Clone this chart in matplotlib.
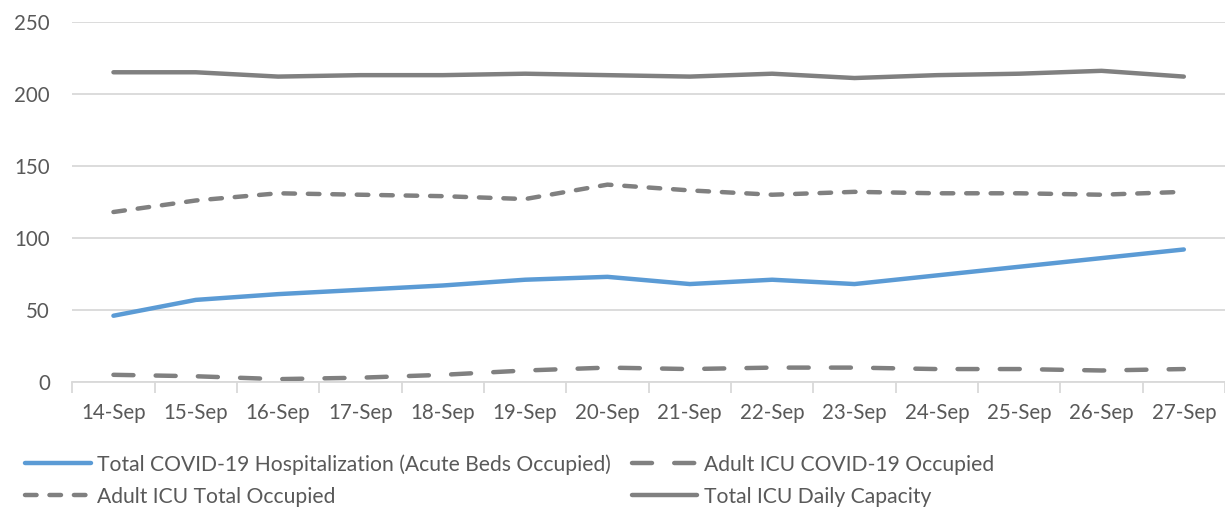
import numpy as np
import matplotlib.pyplot as plt

dates = ['14-Sep', '15-Sep', '16-Sep', '17-Sep', '18-Sep', '19-Sep', '20-Sep',
         '21-Sep', '22-Sep', '23-Sep', '24-Sep', '25-Sep', '26-Sep', '27-Sep']
hospitalization = [46, 57, 61, 64, 67, 71, 73, 68, 71, 68, 74, 80, 86, 92]
icu_covid = [5, 4, 2, 3, 5, 8, 10, 9, 10, 10, 9, 9, 8, 9]
icu_total = [118, 126, 131, 130, 129, 127, 137, 133, 130, 132, 131, 131, 130, 132]
icu_capacity = [215, 215, 212, 213, 213, 214, 213, 212, 214, 211, 213, 214, 216, 212]

plt.rcParams['font.family'] = ['Lato', 'DejaVu Sans']
text_color = '#595959'
grey = '#808080'
blue = '#5B9BD5'

fig = plt.figure(figsize=(12.25, 5.08), dpi=100)
ax = fig.add_axes([0.059, 0.248, 0.941, 0.709])

x = np.arange(len(dates))
lw = 3.2
l1, = ax.plot(x, hospitalization, color=blue, lw=lw, solid_capstyle='round',
              label='Total COVID-19 Hospitalization (Acute Beds Occupied)')
l2, = ax.plot(x, icu_covid, color=grey, lw=lw, dashes=(4.5, 5.0), dash_capstyle='round',
              label='Adult ICU COVID-19 Occupied')
l3, = ax.plot(x, icu_total, color=grey, lw=lw, dashes=(2.6, 2.9), dash_capstyle='round',
              label='Adult ICU Total Occupied')
l4, = ax.plot(x, icu_capacity, color=grey, lw=lw, solid_capstyle='round',
              label='Total ICU Daily Capacity')

ax.set_xlim(-0.5, len(dates) - 0.5)
ax.set_ylim(0, 250)
ax.set_yticks(range(0, 251, 50))
ax.set_xticks(x)
ax.set_xticklabels(dates)
ax.set_xticks(np.arange(-0.5, len(dates), 1), minor=True)
ax.tick_params(axis='x', which='major', length=0, pad=15, labelsize=14.8, colors=text_color)
ax.tick_params(axis='x', which='minor', length=8, color='#d9d9d9', width=1.3)
ax.tick_params(axis='y', length=0, pad=16, labelsize=14.8, colors=text_color)
ax.grid(axis='y', color='#d9d9d9', lw=1.3)
ax.set_axisbelow(True)
for s in ['top', 'right', 'left']:
    ax.spines[s].set_visible(False)
ax.spines['bottom'].set_color('#d9d9d9')
ax.spines['bottom'].set_linewidth(1.3)

leg = fig.legend(handles=[l1, l3, l2, l4], ncol=2, loc='lower left',
                 bbox_to_anchor=(0.005, -0.035), frameon=False, fontsize=15.2,
                 handlelength=3.1, handletextpad=0.3, columnspacing=1.0,
                 labelspacing=0.58)
for t in leg.get_texts():
    t.set_color(text_color)

fig.savefig('out.png', dpi=100)
